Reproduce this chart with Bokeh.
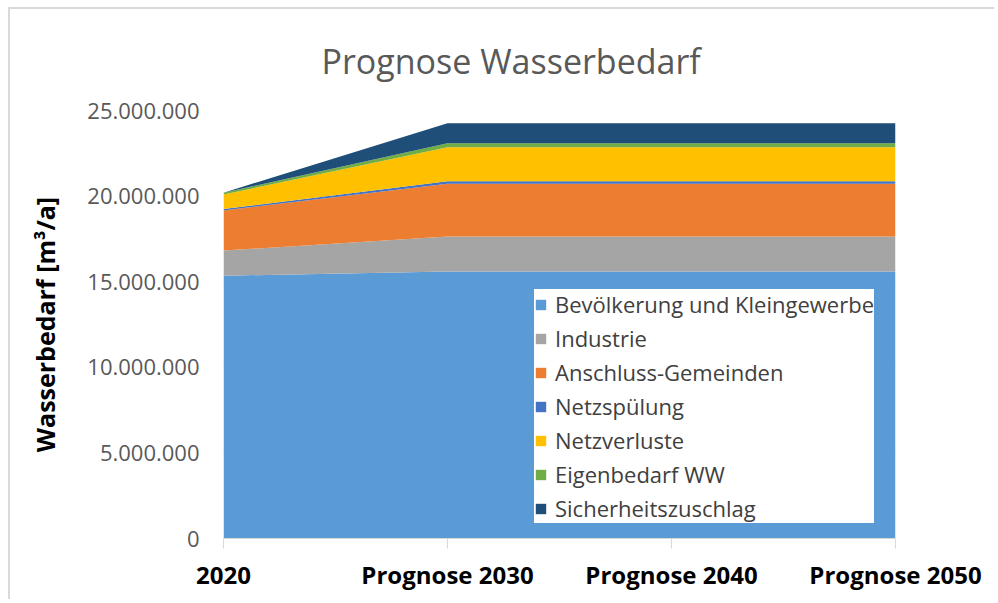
from bokeh.plotting import figure
from bokeh.models import ColumnDataSource, Legend, LegendItem, FixedTicker, Range1d
from bokeh.embed import file_html
from bokeh.resources import INLINE

# ---- data ----
categories = ["2020", "Prognose 2030", "Prognose 2040", "Prognose 2050"]
series_names = ["Bevölkerung und Kleingewerbe", "Industrie", "Anschluss-Gemeinden",
                "Netzspülung", "Netzverluste", "Eigenbedarf WW", "Sicherheitszuschlag"]
bevoelkerung = [15350000, 15600000, 15600000, 15600000]
industrie = [1470000, 2040000, 2040000, 2040000]
anschluss = [2340000, 3080000, 3080000, 3080000]
netzspuelung = [80000, 150000, 150000, 150000]
netzverluste = [850000, 1990000, 1990000, 1990000]
eigenbedarf = [110000, 230000, 230000, 230000]
sicherheit = [0, 1170000, 1170000, 1170000]
y_ticks = [0, 5000000, 10000000, 15000000, 20000000, 25000000]
y_tick_labels = ["0", "5.000.000", "10.000.000", "15.000.000", "20.000.000", "25.000.000"]
colors = ["#5B9BD5", "#A5A5A5", "#ED7D31", "#4472C4", "#FFC000", "#70AD47", "#1F4E79"]

keys = ["s0", "s1", "s2", "s3", "s4", "s5", "s6"]
values = [bevoelkerung, industrie, anschluss, netzspuelung, netzverluste, eigenbedarf, sicherheit]
data = {"x": list(range(len(categories)))}
for k, v in zip(keys, values):
    data[k] = v
source = ColumnDataSource(data)

p = figure(width=986, height=592, output_backend="svg", toolbar_location=None,
           x_range=Range1d(0, len(categories) - 1), y_range=Range1d(0, 25000000),
           min_border_left=213, min_border_top=101, min_border_right=101, min_border_bottom=63,
           title="Prognose Wasserbedarf")
p.outline_line_color = None
p.background_fill_color = "white"
p.border_fill_color = "white"
p.styles = {"border-left": "2px solid #d9d9d9", "border-top": "2px solid #d9d9d9",
            "margin-left": "8px", "margin-top": "7px"}

p.title.text_font = "Open Sans"
p.title.text_font_size = "34px"
p.title.text_font_style = "normal"
p.title.text_color = "#595959"
p.title.align = "left"
p.title.offset = 98
p.title.standoff = 53

renderers = p.varea_stack(stackers=keys, x="x", source=source, color=colors)

# grid
p.xgrid.grid_line_color = None
p.ygrid.grid_line_color = "#d9d9d9"
p.ygrid.grid_line_width = 1
p.ygrid.ticker = FixedTicker(ticks=y_ticks)

# y axis
p.yaxis.ticker = FixedTicker(ticks=y_ticks)
p.yaxis.major_label_overrides = {t: l for t, l in zip(y_ticks, y_tick_labels)}
p.yaxis.axis_line_color = None
p.yaxis.major_tick_line_color = None
p.yaxis.minor_tick_line_color = None
p.yaxis.major_label_text_font = "Open Sans"
p.yaxis.major_label_text_font_size = "22px"
p.yaxis.major_label_text_color = "#595959"
p.yaxis.major_label_standoff = 18
p.yaxis.axis_label = "Wasserbedarf [m³/a]"
p.yaxis.axis_label_text_font = "Open Sans"
p.yaxis.axis_label_text_font_style = "bold"
p.yaxis.axis_label_text_font_size = "25px"
p.yaxis.axis_label_text_color = "black"
p.yaxis.axis_label_standoff = 22

# x axis
p.xaxis.ticker = FixedTicker(ticks=list(range(len(categories))))
p.xaxis.major_label_overrides = {i: c for i, c in enumerate(categories)}
p.xaxis.axis_line_color = "#d9d9d9"
p.xaxis.axis_line_width = 1
p.xaxis.major_tick_line_color = "#d9d9d9"
p.xaxis.major_tick_out = 10
p.xaxis.major_tick_in = 0
p.xaxis.minor_tick_line_color = None
p.xaxis.major_label_text_font = "Open Sans"
p.xaxis.major_label_text_font_style = "bold"
p.xaxis.major_label_text_font_size = "24px"
p.xaxis.major_label_text_color = "black"
p.xaxis.major_label_standoff = 9

# legend
items = [LegendItem(label=n, renderers=[r]) for n, r in zip(series_names, renderers)]
legend = Legend(items=items, location=(311, 15), background_fill_color="white",
                background_fill_alpha=1.0, border_line_color=None,
                label_text_font="Open Sans", label_text_font_size="22px",
                label_text_color="#404040", glyph_width=13, glyph_height=13,
                label_height=24, spacing=4, padding=4, label_standoff=8, margin=0)
p.add_layout(legend, "center")

open("out.html", "w").write(file_html(p, INLINE))
